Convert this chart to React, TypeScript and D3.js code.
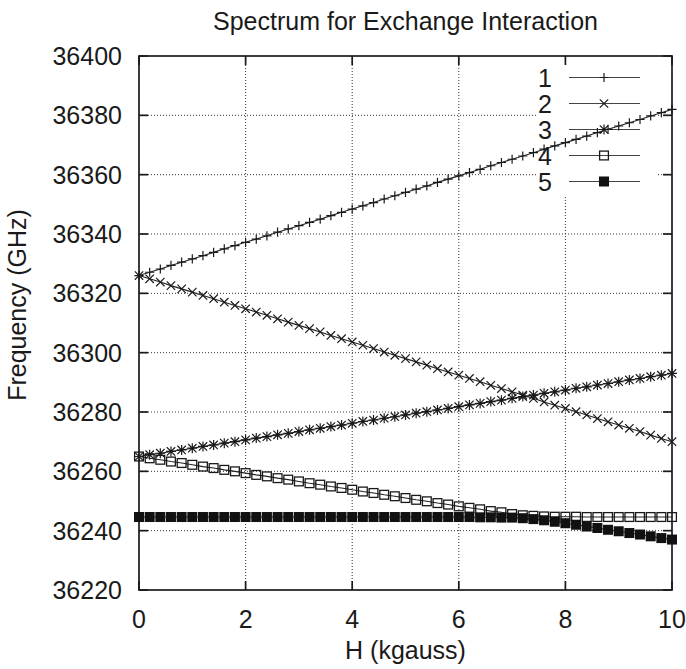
import React from "react";
import { scaleLinear, line } from "d3";

// magnetic field (kgauss), sampled every 0.2
const fieldH = [
  0, 0.2, 0.4, 0.6, 0.8, 1, 1.2, 1.4, 1.6, 1.8, 2, 2.2, 2.4, 2.6, 2.8, 3, 3.2,
  3.4, 3.6, 3.8, 4, 4.2, 4.4, 4.6, 4.8, 5, 5.2, 5.4, 5.6, 5.8, 6, 6.2, 6.4, 6.6,
  6.8, 7, 7.2, 7.4, 7.6, 7.8, 8, 8.2, 8.4, 8.6, 8.8, 9, 9.2, 9.4, 9.6, 9.8, 10,
];

const level1 = [
  36326.0, 36327.1, 36328.2, 36329.4, 36330.5, 36331.6, 36332.7, 36333.8,
  36335.0, 36336.1, 36337.2, 36338.3, 36339.4, 36340.6, 36341.7, 36342.8,
  36343.9, 36345.0, 36346.2, 36347.3, 36348.4, 36349.5, 36350.6, 36351.8,
  36352.9, 36354.0, 36355.1, 36356.2, 36357.4, 36358.5, 36359.6, 36360.7,
  36361.8, 36363.0, 36364.1, 36365.2, 36366.3, 36367.4, 36368.6, 36369.7,
  36370.8, 36371.9, 36373.0, 36374.2, 36375.3, 36376.4, 36377.5, 36378.6,
  36379.8, 36380.9, 36382.0,
];

const level2 = [
  36326.0, 36324.9, 36323.8, 36322.6, 36321.5, 36320.4, 36319.3, 36318.2,
  36317.0, 36315.9, 36314.8, 36313.7, 36312.6, 36311.4, 36310.3, 36309.2,
  36308.1, 36307.0, 36305.8, 36304.7, 36303.6, 36302.5, 36301.4, 36300.2,
  36299.1, 36298.0, 36296.9, 36295.8, 36294.6, 36293.5, 36292.4, 36291.3,
  36290.2, 36289.0, 36287.9, 36286.8, 36285.7, 36284.6, 36283.4, 36282.3,
  36281.2, 36280.1, 36279.0, 36277.8, 36276.7, 36275.6, 36274.5, 36273.4,
  36272.2, 36271.1, 36270.0,
];

const level3 = [
  36265.0, 36265.6, 36266.1, 36266.7, 36267.2, 36267.8, 36268.4, 36268.9,
  36269.5, 36270.0, 36270.6, 36271.2, 36271.7, 36272.3, 36272.8, 36273.4,
  36274.0, 36274.5, 36275.1, 36275.6, 36276.2, 36276.8, 36277.3, 36277.9,
  36278.4, 36279.0, 36279.6, 36280.1, 36280.7, 36281.2, 36281.8, 36282.4,
  36282.9, 36283.5, 36284.0, 36284.6, 36285.2, 36285.7, 36286.3, 36286.8,
  36287.4, 36288.0, 36288.5, 36289.1, 36289.6, 36290.2, 36290.8, 36291.3,
  36291.9, 36292.4, 36293.0,
];

const level4 = [
  36265.0, 36264.4, 36263.9, 36263.3, 36262.8, 36262.2, 36261.6, 36261.1,
  36260.5, 36260.0, 36259.4, 36258.8, 36258.3, 36257.7, 36257.2, 36256.6,
  36256.0, 36255.5, 36254.9, 36254.4, 36253.8, 36253.2, 36252.7, 36252.1,
  36251.6, 36251.0, 36250.4, 36249.9, 36249.3, 36248.8, 36248.2, 36247.7,
  36247.2, 36246.6, 36246.2, 36245.6, 36245.2, 36245.0, 36244.8, 36244.7,
  36244.7, 36244.7, 36244.6, 36244.6, 36244.6, 36244.6, 36244.6, 36244.6,
  36244.6, 36244.6, 36244.6,
];

const level5 = [
  36244.6, 36244.6, 36244.6, 36244.6, 36244.6, 36244.6, 36244.6, 36244.6,
  36244.6, 36244.6, 36244.6, 36244.6, 36244.6, 36244.6, 36244.6, 36244.6,
  36244.6, 36244.6, 36244.6, 36244.6, 36244.6, 36244.6, 36244.6, 36244.6,
  36244.6, 36244.6, 36244.6, 36244.6, 36244.6, 36244.6, 36244.6, 36244.6,
  36244.5, 36244.5, 36244.4, 36244.4, 36244.2, 36243.9, 36243.5, 36243.0,
  36242.5, 36242.0, 36241.4, 36240.9, 36240.3, 36239.8, 36239.2, 36238.7,
  36238.1, 36237.5, 36237.0,
];

const seriesNames = ["1", "2", "3", "4", "5"];
const xTicks = [0, 2, 4, 6, 8, 10];
const yTicks = [36220, 36240, 36260, 36280, 36300, 36320, 36340, 36360, 36380, 36400];

const W = 686;
const H = 669;
const left = 139;
const right = 672;
const top = 56;
const bottom = 590;
const font = "'Liberation Sans', Arial, Helvetica, sans-serif";
const fs = 25;

function Marker({ kind, x, y }: { kind: number; x: number; y: number }) {
  const c = "#1a1a1a";
  if (kind === 0) {
    const s = 4.6;
    return <path d={`M${x - s},${y}H${x + s}M${x},${y - s}V${y + s}`} stroke={c} strokeWidth={1.2} />;
  }
  if (kind === 1) {
    const s = 4.2;
    return <path d={`M${x - s},${y - s}L${x + s},${y + s}M${x - s},${y + s}L${x + s},${y - s}`} stroke={c} strokeWidth={1.2} />;
  }
  if (kind === 2) {
    const s = 5;
    const d = 4.2;
    return (
      <path
        d={`M${x - s},${y}H${x + s}M${x},${y - s}V${y + s}M${x - d},${y - d}L${x + d},${y + d}M${x - d},${y + d}L${x + d},${y - d}`}
        stroke={c}
        strokeWidth={1.2}
      />
    );
  }
  if (kind === 3) {
    const s = 4.4;
    return <rect x={x - s} y={y - s} width={2 * s} height={2 * s} fill="none" stroke={c} strokeWidth={1.3} />;
  }
  const s = 5;
  return <rect x={x - s} y={y - s} width={2 * s} height={2 * s} fill="#111" />;
}

export default function App() {
  const xScale = scaleLinear().domain([0, 10]).range([left, right]);
  const yScale = scaleLinear().domain([36220, 36400]).range([bottom, top]);

  const levels = [level1, level2, level3, level4, level5];
  const pathOf = line<number>()
    .x((_, i) => xScale(fieldH[i]))
    .y((v) => yScale(v));

  const legendY = (i: number) => 77.5 + i * 26;
  const tickLen = 9;

  return (
    <svg
      width={W}
      height={H}
      style={{ position: "absolute", left: 0, top: 0, background: "#fff" }}
      fontFamily={font}
    >
      {/* grid */}
      <g stroke="#333" strokeWidth={1} strokeDasharray="1,2">
        {xTicks.slice(1, -1).map((t) => (
          <line key={t} x1={xScale(t)} x2={xScale(t)} y1={top} y2={bottom} />
        ))}
        {yTicks.slice(1, -1).map((t) => (
          <line key={t} x1={left} x2={right} y1={yScale(t)} y2={yScale(t)} />
        ))}
      </g>

      {/* key background */}
      <rect x={536} y={60} width={120} height={137} fill="#fff" />

      {/* frame and ticks */}
      <g stroke="#1a1a1a" strokeWidth={1.7}>
        <rect x={left} y={top} width={right - left} height={bottom - top} fill="none" />
        {xTicks.map((t) => (
          <g key={t}>
            <line x1={xScale(t)} x2={xScale(t)} y1={bottom} y2={bottom - tickLen} />
            <line x1={xScale(t)} x2={xScale(t)} y1={top} y2={top + tickLen} />
          </g>
        ))}
        {yTicks.map((t) => (
          <g key={t}>
            <line x1={left} x2={left + tickLen} y1={yScale(t)} y2={yScale(t)} />
            <line x1={right} x2={right - tickLen} y1={yScale(t)} y2={yScale(t)} />
          </g>
        ))}
      </g>

      {/* tick labels */}
      <g fontSize={fs} fill="#1a1a1a">
        {xTicks.map((t) => (
          <text key={t} x={xScale(t)} y={619} textAnchor="middle" dominantBaseline="central">
            {t}
          </text>
        ))}
        {yTicks.map((t) => (
          <text key={t} x={122} y={yScale(t)} textAnchor="end" dominantBaseline="central">
            {t}
          </text>
        ))}
      </g>

      {/* titles */}
      <text x={(left + right) / 2} y={21} fontSize={fs} textAnchor="middle" dominantBaseline="central" fill="#1a1a1a">
        Spectrum for Exchange Interaction
      </text>
      <text x={(left + right) / 2} y={650} fontSize={fs} textAnchor="middle" dominantBaseline="central" fill="#1a1a1a">
        H (kgauss)
      </text>
      <text
        transform={`translate(17,305) rotate(-90)`}
        fontSize={fs}
        textAnchor="middle"
        dominantBaseline="central"
        fill="#1a1a1a"
      >
        Frequency (GHz)
      </text>

      {/* legend */}
      {seriesNames.map((name, i) => (
        <g key={name}>
          <text x={552} y={legendY(i)} fontSize={fs} textAnchor="end" dominantBaseline="central" fill="#1a1a1a">
            {name}
          </text>
          <line x1={569} x2={640} y1={legendY(i)} y2={legendY(i)} stroke="#444" strokeWidth={1.1} />
          <Marker kind={i} x={604} y={legendY(i)} />
        </g>
      ))}

      {/* data */}
      {levels.map((vals, k) => (
        <g key={k}>
          <path d={pathOf(vals) || ""} fill="none" stroke="#222" strokeWidth={1.1} />
          {vals.map((v, i) => (
            <Marker key={i} kind={k} x={xScale(fieldH[i])} y={yScale(v)} />
          ))}
        </g>
      ))}
    </svg>
  );
}
